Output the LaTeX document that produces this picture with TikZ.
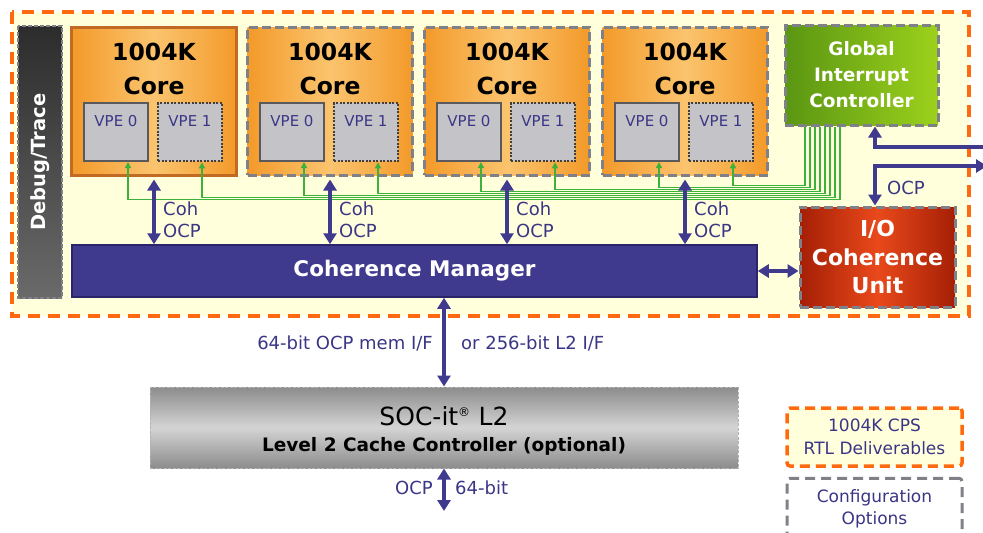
\documentclass[tikz,border=0pt]{standalone}
\usepackage{fontspec}
\setmainfont{DejaVu Sans}
\usepackage{tikz}
\usetikzlibrary{positioning, arrows.meta}
\definecolor{bgyel}{HTML}{FFFFDC}
\definecolor{dorange}{HTML}{FF6A10}
\definecolor{coreo}{HTML}{F39A2A}
\definecolor{corel}{HTML}{FBC46E}
\definecolor{corebrd}{HTML}{C06A24}
\definecolor{dashgray}{HTML}{808088}
\definecolor{vpefill}{HTML}{C4C4C8}
\definecolor{vpebrd}{HTML}{5A5A5E}
\definecolor{purp}{HTML}{3F3A8E}
\definecolor{purpdk}{HTML}{2A2568}
\definecolor{purptext}{HTML}{3A3585}
\definecolor{gcol}{HTML}{3CB23C}
\definecolor{gicl}{HTML}{9CD11C}
\definecolor{gicd}{HTML}{5A9612}
\definecolor{iocl}{HTML}{E9491B}
\definecolor{iocd}{HTML}{A51F05}
\definecolor{l2l}{HTML}{D4D4D4}
\definecolor{l2d}{HTML}{8C8C8C}
\definecolor{dbgd}{HTML}{2C2C2C}
\definecolor{dbgl}{HTML}{6A6A6A}

\begin{document}
\begin{tikzpicture}[x=1pt, y=-1pt,
  every node/.style={inner sep=0pt},
  corebox/.style={minimum width=165pt, minimum height=148pt,
    left color=coreo, right color=coreo, middle color=corel},
  coresolid/.style={draw=corebrd, line width=3pt},
  coredash/.style={draw=dashgray, line width=3pt, dash pattern=on 9pt off 4pt},
  coretitle/.style={align=center, font=\bfseries\fontsize{23.5}{34}\selectfont},
  vpebox/.style={minimum width=64pt, minimum height=58pt, fill=vpefill,
    draw=vpebrd, line width=2pt},
  vpedot/.style={draw=vpebrd!70!black, line width=2.5pt, dash pattern=on 2pt off 1.5pt},
  vpetext/.style={text=purptext, font=\fontsize{15}{18}\selectfont},
  gline/.style={draw=gcol, line width=1.8pt, -{Triangle[length=6pt,width=6pt]}},
  parrow/.style={draw=purp, line width=3.5pt,
    {Triangle[length=11pt,width=13pt]}-{Triangle[length=11pt,width=13pt]}},
  pone/.style={draw=purp, line width=3.5pt, -{Triangle[length=11pt,width=13pt]}},
  ptext/.style={text=purptext, font=\fontsize{18}{22}\selectfont, align=left},
  boxdash/.style={draw=dashgray, line width=3pt, dash pattern=on 9pt off 4pt},
  legtext/.style={text=purptext, font=\fontsize{17}{23}\selectfont, align=center}]
  \useasboundingbox (0,0) rectangle (983,533);
  % CPS area
  \draw[draw=dorange, fill=bgyel, line width=3.5pt, dash pattern=on 12pt off 8pt]
    (12,12) rectangle (969,316);
  % debug strip
  \node[rotate=90, minimum width=272pt, minimum height=44pt, top color=dbgd,
        bottom color=dbgl, draw=dashgray, line width=2pt, dash pattern=on 4pt off 2pt,
        text=white, font=\bfseries\fontsize{19.5}{22}\selectfont] (dbg) at (40,162) {Debug/Trace};
  % cores with their VPEs
  \foreach \i/\xc/\bd in {1/154/coresolid, 2/330/coredash, 3/507/coredash, 4/685/coredash} {
    \node[corebox, \bd] (c\i) at (\xc,101) {};
    \node[coretitle] (t\i) at (\xc,69) {1004K\\Core};
    \node[vpebox] (va\i) at (\xc-38,132) {};
    \node[vpebox, vpedot] (vb\i) at (\xc+36,132) {};
    \node[vpetext] (la\i) at ([yshift=-19pt]va\i.north) {VPE 0};
    \node[vpetext] (lb\i) at ([yshift=-19pt]vb\i.north) {VPE 1};
  }
  % interrupt controller and I/O unit
  \node[boxdash, minimum width=153pt, minimum height=100pt, left color=gicd,
        right color=gicl, text=white, align=center,
        font=\bfseries\fontsize{18.5}{26}\selectfont] (gic) at (861.5,75)
        {Global\\Interrupt\\Controller};
  \node[boxdash, minimum width=155pt, minimum height=100pt, left color=iocd,
        right color=iocd, middle color=iocl, text=white, align=center,
        font=\bfseries\fontsize{22}{28.5}\selectfont] (iocu) at (877.5,257)
        {I/O\\Coherence\\Unit};
  % interrupt lines, VPEs to GIC
  \foreach \v [count=\n from 0] in {va1,vb1,va2,vb2,va3,vb3,va4,vb4} {
    \pgfmathsetmacro{\dx}{-21.5-5*\n}
    \pgfmathsetmacro{\dy}{73-2*\n}
    \draw[gline] ([xshift=\dx pt]gic.south) -- ++(0,\dy) -| ([xshift=12pt]\v.south);
  }
  % coherence manager
  \node[minimum width=685pt, minimum height=52pt, fill=purp, draw=purpdk,
        line width=1.5pt, text=white,
        font=\bfseries\fontsize{21.5}{24}\selectfont] (cm) at (414.5,271) {Coherence Manager};
  \foreach \i in {1,...,4} {
    \draw[parrow] ([yshift=-3pt]c\i.south) -- (c\i.south |- cm.north);
    \node[ptext, anchor=west] (coh\i) at ([xshift=9pt]c\i.south |- 0,220) {Coh\\OCP};
  }
  \draw[parrow] (cm.east) -- (cm.east -| iocu.west);
  % external ports
  \coordinate (ext1) at (986,147);
  \coordinate (ext2) at (987,166);
  \draw[pone] (ext1) -| ([xshift=13.5pt]gic.south);
  \draw[parrow] ([xshift=-2.5pt]iocu.north) |- (ext2);
  \node[ptext, anchor=west] (ocpio) at (887,188) {OCP};
  % L2 cache
  \node[minimum width=588pt, minimum height=81pt, top color=l2d, bottom color=l2d,
        middle color=l2l, draw=gray!60, line width=1pt, dash pattern=on 3pt off 1.5pt]
        (l2) at (444,427.5) {};
  \node[font=\fontsize{25}{28}\selectfont] (l2a) at (444,416)
        {SOC-it\textsuperscript{\fontsize{12}{12}\selectfont ®} L2};
  \node[font=\bfseries\fontsize{18.5}{22}\selectfont] (l2b) at (444,446)
        {Level 2 Cache Controller (optional)};
  \draw[parrow] (l2.north |- cm.south) -- (l2.north);
  \node[ptext, anchor=east] (memif) at (433,343) {64-bit OCP mem I/F};
  \node[ptext, anchor=west] (l2if) at (461,343) {or 256-bit L2 I/F};
  \coordinate (l2out) at (444,511);
  \draw[parrow] (l2.south) -- (l2out);
  \node[ptext, anchor=east] (ocpout) at (433,488) {OCP};
  \node[ptext, anchor=west] (bitout) at (455,488) {64-bit};
  % legend
  \node[legtext, minimum width=175pt, minimum height=58pt, fill=bgyel, draw=dorange,
        line width=3.5pt, dash pattern=on 10pt off 6pt, rounded corners=3pt]
        (leg1) at (874.5,437) {1004K CPS\\RTL Deliverables};
  \node[legtext, minimum width=175pt, minimum height=62pt, fill=white, draw=dashgray,
        line width=3pt, dash pattern=on 10pt off 6pt, rounded corners=3pt,
        font=\fontsize{17}{22}\selectfont, below=9pt of leg1] (leg2) {Configuration\\Options};
\end{tikzpicture}
\end{document}
